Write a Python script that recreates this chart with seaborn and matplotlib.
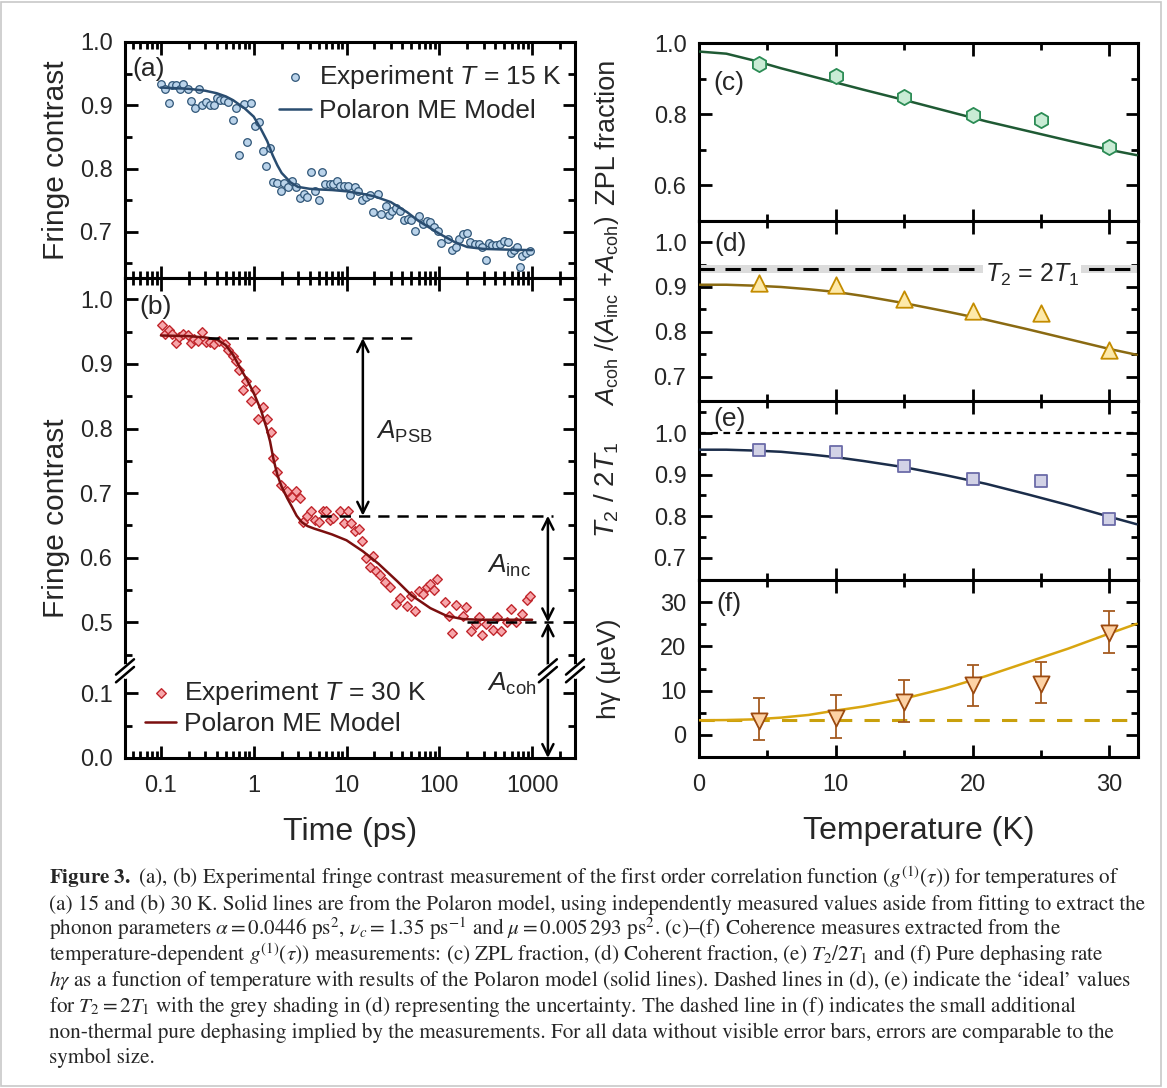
import numpy as np
import seaborn as sns
import matplotlib
matplotlib.use("Agg")
import matplotlib.pyplot as plt
from matplotlib.ticker import FixedLocator, LogLocator, NullFormatter, FuncFormatter
from matplotlib.patches import Rectangle

# ---------------- data ----------------
# (a) fringe contrast at T = 15 K
time_a = [0.100, 0.110, 0.122, 0.132, 0.145, 0.160, 0.174, 0.194, 0.211, 0.233,
          0.255, 0.275, 0.306, 0.338, 0.373, 0.399, 0.433, 0.479, 0.533, 0.593,
          0.645, 0.695, 0.787, 0.848, 0.936, 1.02, 1.15, 1.25, 1.35, 1.50,
          1.63, 1.80, 1.95, 2.12, 2.37, 2.57, 2.84, 3.16, 3.44, 3.79,
          4.12, 4.55, 5.02, 5.42, 5.89, 6.56, 7.24, 7.87, 8.55, 9.44,
          10.4, 11.0, 12.2, 13.3, 14.8, 16.3, 18.0, 19.5, 21.8, 23.7,
          26.4, 28.6, 31.1, 34.4, 38.0, 41.2, 45.9, 49.9, 54.2, 59.8,
          66.7, 73.6, 78.7, 86.9, 96.8, 105, 124, 138, 150, 163,
          180, 199, 216, 241, 268, 291, 316, 344, 373, 412,
          448, 494, 551, 598, 634, 689, 736, 787, 869, 960]
contrast_a = [0.934, 0.925, 0.904, 0.932, 0.932, 0.926, 0.934, 0.925, 0.906, 0.895,
              0.926, 0.900, 0.905, 0.900, 0.900, 0.912, 0.908, 0.908, 0.905, 0.876,
              0.896, 0.821, 0.902, 0.842, 0.904, 0.867, 0.874, 0.828, 0.804, 0.832,
              0.779, 0.777, 0.764, 0.777, 0.771, 0.781, 0.771, 0.754, 0.759, 0.755,
              0.795, 0.765, 0.751, 0.794, 0.775, 0.775, 0.775, 0.781, 0.772, 0.772,
              0.772, 0.758, 0.771, 0.765, 0.750, 0.755, 0.758, 0.732, 0.759, 0.728,
              0.741, 0.726, 0.733, 0.737, 0.733, 0.719, 0.721, 0.718, 0.702, 0.725,
              0.712, 0.717, 0.716, 0.708, 0.702, 0.682, 0.688, 0.671, 0.676, 0.688,
              0.697, 0.698, 0.684, 0.681, 0.681, 0.676, 0.655, 0.683, 0.679, 0.679,
              0.681, 0.686, 0.684, 0.666, 0.672, 0.676, 0.644, 0.661, 0.667, 0.670]
model_time_a = [0.1, 0.2, 0.3, 0.4, 0.5, 0.6, 0.7, 0.8, 1.0, 1.2, 1.4, 1.6, 1.8, 2.0,
                2.5, 3.0, 4.0, 5.0, 7.0, 10, 15, 20, 30, 45, 60, 100, 150, 200,
                300, 500, 1000]
model_contrast_a = [0.928, 0.926, 0.923, 0.919, 0.914, 0.908, 0.901, 0.895, 0.882,
                    0.862, 0.843, 0.821, 0.805, 0.793, 0.778, 0.771, 0.768, 0.767,
                    0.766, 0.764, 0.760, 0.756, 0.747, 0.731, 0.717, 0.697, 0.683,
                    0.676, 0.673, 0.672, 0.671]

# (b) fringe contrast at T = 30 K
time_b = [0.102, 0.110, 0.122, 0.132, 0.145, 0.158, 0.174, 0.194, 0.209, 0.227,
          0.253, 0.275, 0.306, 0.338, 0.373, 0.426, 0.490, 0.533, 0.603, 0.645,
          0.700, 0.775, 0.828, 0.936, 1.03, 1.10, 1.25, 1.39, 1.52, 1.60,
          1.77, 1.98, 2.27, 2.60, 2.86, 3.16, 3.39, 3.73, 4.12, 4.59,
          5.06, 5.56, 6.05, 6.67, 7.24, 8.52, 9.44, 10.5, 11.2, 12.2,
          13.6, 14.8, 16.3, 17.7, 19.2, 20.9, 23.1, 25.7, 29.6, 34.4,
          37.9, 44.8, 49.9, 54.2, 60.4, 66.6, 73.6, 79.5, 86.7, 94.3,
          114, 127, 138, 150, 180, 195, 221, 246, 268, 291,
          322, 380, 414, 468, 530, 597, 673, 785, 871, 959]
contrast_b = [0.960, 0.947, 0.953, 0.947, 0.932, 0.942, 0.947, 0.945, 0.932, 0.939,
              0.935, 0.950, 0.934, 0.934, 0.931, 0.935, 0.931, 0.921, 0.913, 0.905,
              0.891, 0.859, 0.873, 0.842, 0.859, 0.815, 0.833, 0.815, 0.795, 0.755,
              0.732, 0.713, 0.703, 0.694, 0.704, 0.692, 0.655, 0.664, 0.673, 0.659,
              0.655, 0.673, 0.673, 0.659, 0.661, 0.672, 0.654, 0.672, 0.654, 0.642,
              0.644, 0.626, 0.600, 0.585, 0.603, 0.579, 0.574, 0.562, 0.554, 0.528,
              0.538, 0.526, 0.541, 0.518, 0.549, 0.544, 0.554, 0.560, 0.550, 0.567,
              0.531, 0.510, 0.483, 0.527, 0.510, 0.524, 0.486, 0.498, 0.509, 0.481,
              0.498, 0.488, 0.509, 0.487, 0.500, 0.520, 0.500, 0.513, 0.534, 0.541]
model_time_b = [0.1, 0.2, 0.3, 0.4, 0.5, 0.6, 0.7, 0.85, 1.0, 1.2, 1.38, 1.5, 1.63,
                1.8, 2.0, 2.3, 2.6, 2.9, 3.3, 3.8, 4.5, 5.5, 7, 10, 15, 22, 35, 50,
                80, 120, 180, 270, 400, 1000]
model_contrast_b = [0.944, 0.943, 0.941, 0.938, 0.929, 0.914, 0.896, 0.875, 0.855,
                    0.828, 0.800, 0.780, 0.753, 0.728, 0.710, 0.692, 0.678, 0.665,
                    0.655, 0.649, 0.645, 0.641, 0.636, 0.627, 0.610, 0.591, 0.564,
                    0.542, 0.522, 0.510, 0.505, 0.504, 0.504, 0.504]

# plateau levels marked in (b)
level_psb = 0.94
level_inc = 0.665
level_coh = 0.50
arrow_time = 1480

# (c)-(f) vs temperature
temps = [4.4, 10, 15, 20, 25, 30]
zpl_frac = [0.942, 0.906, 0.849, 0.797, 0.784, 0.709]
coh_frac = [0.908, 0.904, 0.874, 0.846, 0.841, 0.760]
t2_ratio = [0.960, 0.954, 0.920, 0.889, 0.884, 0.794]
h_gamma = [3.2, 3.8, 7.4, 11.3, 11.6, 23.0]
h_gamma_low = [-1.1, -0.6, 2.9, 6.5, 7.1, 18.4]
h_gamma_high = [8.4, 8.9, 12.5, 15.9, 16.5, 28.0]

model_temp = [0, 2, 4, 6, 8, 10, 12, 15, 18, 21, 24, 27, 30, 32]
model_zpl = [0.976, 0.970, 0.951, 0.929, 0.909, 0.889, 0.869, 0.840, 0.810, 0.780,
             0.753, 0.726, 0.700, 0.685]
model_coh = [0.905, 0.905, 0.903, 0.900, 0.895, 0.889, 0.880, 0.864, 0.846, 0.827,
             0.806, 0.784, 0.762, 0.749]
model_t2 = [0.960, 0.960, 0.958, 0.955, 0.949, 0.942, 0.933, 0.918, 0.899, 0.878,
            0.853, 0.827, 0.799, 0.781]
model_hg = [3.3, 3.35, 3.5, 3.9, 4.5, 5.5, 6.4, 8.2, 10.5, 13.3, 16.4, 19.5, 22.9, 25.1]

ideal_coh = 0.94
ideal_coh_band = (0.932, 0.948)
ideal_t2 = 1.0
hg_offset = 3.3

# ---------------- style ----------------
sns.set_style("ticks")
plt.rcParams['font.family'] = ['Liberation Sans', 'DejaVu Sans']
plt.rcParams['mathtext.fontset'] = 'custom'
plt.rcParams['mathtext.rm'] = 'Liberation Sans'
plt.rcParams['mathtext.it'] = 'Liberation Sans:italic'
plt.rcParams['mathtext.bf'] = 'Liberation Sans:bold'

W, H = 1167, 1088
fig = plt.figure(figsize=(W / 100, H / 100), dpi=100)

TICK_FS = 17
LABEL_FS = 23
PANEL_FS = 19
LEG_FS = 19


def box(x0, y0, x1, y1):
    return [x0 / W, 1 - y1 / H, (x1 - x0) / W, (y1 - y0) / H]


def style(ax, xpad=12):
    ax.tick_params(which='both', direction='in', top=True, right=True, width=2,
                   labelsize=TICK_FS, color='black')
    ax.tick_params(which='major', length=9)
    ax.tick_params(which='minor', length=5)
    ax.tick_params(axis='y', pad=9)
    ax.tick_params(axis='x', pad=xpad)
    for s in ax.spines.values():
        s.set_linewidth(2.2)
        s.set_color('black')


def log_time_axis(ax, labels):
    ax.set_xscale('log')
    ax.set_xlim(0.041, 2900)
    ax.xaxis.set_major_locator(FixedLocator([0.1, 1, 10, 100, 1000]))
    ax.xaxis.set_minor_locator(LogLocator(base=10, subs=np.arange(2, 10), numticks=20))
    ax.xaxis.set_minor_formatter(NullFormatter())
    if labels:
        ax.xaxis.set_major_formatter(FuncFormatter(lambda v, p: f'{v:g}'))
    else:
        ax.xaxis.set_major_formatter(NullFormatter())


def temp_axis(ax, labels):
    ax.set_xlim(0, 32.1)
    ax.xaxis.set_major_locator(FixedLocator([0, 10, 20, 30]))
    ax.xaxis.set_minor_locator(FixedLocator([5, 15, 25]))
    if not labels:
        ax.xaxis.set_major_formatter(NullFormatter())


def y_ticks(ax, major, minor, fmt='{:.1f}'):
    ax.yaxis.set_major_locator(FixedLocator(major))
    ax.yaxis.set_minor_locator(FixedLocator(minor))
    ax.yaxis.set_major_formatter(FuncFormatter(lambda v, p: fmt.format(v)))


# ---------------- (a) ----------------
ax_a = fig.add_axes(box(125, 42, 575, 278))
sns.scatterplot(x=time_a, y=contrast_a, ax=ax_a, marker='o', s=30, color='#bad3ea',
                edgecolor='#2f5577', linewidth=0.9, zorder=3,
                label=r'Experiment $T$ = 15 K')
sns.lineplot(x=model_time_a, y=model_contrast_a, ax=ax_a, color='#2a4d70', lw=1.8,
             zorder=4, label='Polaron ME Model', sort=False, estimator=None)
log_time_axis(ax_a, labels=False)
ax_a.set_ylim(0.627, 1.0)
y_ticks(ax_a, [0.7, 0.8, 0.9, 1.0], [0.65, 0.75, 0.85, 0.95])
style(ax_a)
ax_a.set_ylabel('Fringe contrast', fontsize=21.5)
ax_a.yaxis.set_label_coords(-0.122, 0.5)
ax_a.text(0.016, 0.886, '(a)', transform=ax_a.transAxes, fontsize=PANEL_FS,
          ha='left', va='center')
h, l = ax_a.get_legend_handles_labels()
ax_a.legend(h, l, loc='upper right', bbox_to_anchor=(0.97, 0.91), frameon=False,
            fontsize=LEG_FS, handlelength=1.2, handletextpad=0.3, labelspacing=0.29,
            borderpad=0, borderaxespad=0)

# ---------------- (b) with broken y axis ----------------
GAP_LO, GAP_HI = 0.135, 0.425
GAP = GAP_HI - GAP_LO


def fwd(y):
    y = np.asarray(y, dtype=float)
    return np.where(y > GAP_HI, y - GAP, np.where(y > GAP_LO, GAP_LO, y))


def inv(u):
    u = np.asarray(u, dtype=float)
    return np.where(u > GAP_LO, u + GAP, u)


ax_b = fig.add_axes(box(125, 278, 575, 758))
ax_b.set_yscale('function', functions=(fwd, inv))
sns.scatterplot(x=time_b, y=contrast_b, ax=ax_b, marker='D', s=24, color='#f7a6aa',
                edgecolor='#c1272d', linewidth=1.0, zorder=3,
                label=r'Experiment $T$ = 30 K')
sns.lineplot(x=model_time_b, y=model_contrast_b, ax=ax_b, color='#7b0f0f', lw=1.8,
             zorder=4, label='Polaron ME Model', sort=False, estimator=None)
log_time_axis(ax_b, labels=True)
ax_b.set_ylim(0.0, 1.033)
y_ticks(ax_b, [0.0, 0.1, 0.5, 0.6, 0.7, 0.8, 0.9, 1.0],
        [0.05, 0.45, 0.55, 0.65, 0.75, 0.85, 0.95])
style(ax_b)
ax_b.set_ylabel('Fringe contrast', fontsize=21.5)
ax_b.yaxis.set_label_coords(-0.122, 0.5)
ax_b.set_xlabel('Time (ps)', fontsize=LABEL_FS)
ax_b.xaxis.set_label_coords(0.5, -0.122)
ax_b.text(0.031, 0.94, '(b)', transform=ax_b.transAxes, fontsize=PANEL_FS,
          ha='left', va='center')
h, l = ax_b.get_legend_handles_labels()
ax_b.legend(h, l, loc='lower left', bbox_to_anchor=(0.044, 0.045), frameon=False,
            fontsize=LEG_FS, handlelength=1.2, handletextpad=0.3, labelspacing=0.22,
            borderpad=0, borderaxespad=0)

dash_kw = dict(color='black', lw=1.8, dashes=(4.5, 3.2), zorder=5)
ax_b.plot([0.32, 51], [level_psb, level_psb], **dash_kw)
ax_b.plot([5.2, 1700], [level_inc, level_inc], **dash_kw)
ax_b.plot([200, 1700], [level_coh, level_coh], **dash_kw)
arrow_kw = dict(arrowstyle='<->', color='black', lw=1.8, shrinkA=0, shrinkB=0,
                mutation_scale=20)
ax_b.annotate('', xy=(15, level_inc), xytext=(15, level_psb), arrowprops=arrow_kw)
ax_b.annotate('', xy=(arrow_time, level_coh), xytext=(arrow_time, level_inc),
              arrowprops=arrow_kw)
ax_b.annotate('', xy=(arrow_time, 0.0), xytext=(arrow_time, level_coh),
              arrowprops=arrow_kw)
ax_b.text(21, 0.795, r'$A_{\rm PSB}$', fontsize=19, ha='left', va='center')
ax_b.text(330, 0.588, r'$A_{\rm inc}$', fontsize=19, ha='left', va='center')
ax_b.text(330, 0.115, r'$A_{\rm coh}$', fontsize=19, ha='left', va='center')

# break marks
to_axes = ax_b.transAxes.inverted()
y_break = to_axes.transform(ax_b.transData.transform((1, GAP_LO)))[1]
x_arrow = to_axes.transform(ax_b.transData.transform((arrow_time, 0.5)))[0]
for xf in (0.0, x_arrow, 1.0):
    w, hh, d = 0.02, 0.016, 0.008
    ax_b.plot([xf, xf], [y_break - d, y_break + d], color='white', lw=5,
              transform=ax_b.transAxes, clip_on=False, zorder=8)
    for dy in (-d, d):
        ax_b.plot([xf - w, xf + w], [y_break + dy - hh, y_break + dy + hh],
                  color='black', lw=1.8, transform=ax_b.transAxes, clip_on=False,
                  zorder=9)

RIGHT_LABEL_X = -0.178

# ---------------- (c) ----------------
ax_c = fig.add_axes(box(699, 43, 1138, 221))
sns.lineplot(x=model_temp, y=model_zpl, ax=ax_c, color='#1f5a34', lw=1.8, zorder=3,
             sort=False, estimator=None)
sns.scatterplot(x=temps, y=zpl_frac, ax=ax_c, marker='h', s=120, color='#c9ecd5',
                edgecolor='#2c8c55', linewidth=1.3, zorder=4)
temp_axis(ax_c, labels=False)
ax_c.set_ylim(0.5, 1.0)
y_ticks(ax_c, [0.6, 0.8, 1.0], [0.7, 0.9])
style(ax_c)
ax_c.set_ylabel('ZPL fraction', fontsize=19.5)
ax_c.yaxis.set_label_coords(RIGHT_LABEL_X, 0.5)
ax_c.text(0.032, 0.778, '(c)', transform=ax_c.transAxes, fontsize=PANEL_FS,
          ha='left', va='center')

# ---------------- (d) ----------------
ax_d = fig.add_axes(box(699, 221, 1138, 401))
ax_d.axhspan(*ideal_coh_band, color='#dcdcdc', lw=0, zorder=1)
ax_d.axhline(ideal_coh, color='black', lw=2.2, dashes=(5, 3.5), zorder=2)
sns.lineplot(x=model_temp, y=model_coh, ax=ax_d, color='#8a6a12', lw=1.8, zorder=3,
             sort=False, estimator=None)
sns.scatterplot(x=temps, y=coh_frac, ax=ax_d, marker='^', s=140, color='#fde9a9',
                edgecolor='#c48c00', linewidth=1.3, zorder=4)
temp_axis(ax_d, labels=False)
ax_d.set_ylim(0.646, 1.047)
y_ticks(ax_d, [0.7, 0.8, 0.9, 1.0], [0.75, 0.85, 0.95])
style(ax_d)
ax_d.set_ylabel(r'$A_{\rm coh}$ /($A_{\rm inc}$ +$A_{\rm coh}$)', fontsize=18.5)
ax_d.yaxis.set_label_coords(RIGHT_LABEL_X, 0.5)
ax_d.text(0.036, 0.872, '(d)', transform=ax_d.transAxes, fontsize=PANEL_FS,
          ha='left', va='center')
ax_d.text(20.9, 0.926, r'$T_2$ = 2$T_1$', fontsize=18, ha='left', va='center',
          zorder=6, bbox=dict(facecolor='white', edgecolor='none', pad=1.5))

# ---------------- (e) ----------------
ax_e = fig.add_axes(box(699, 401, 1138, 580))
ax_e.axhline(ideal_t2, color='black', lw=1.6, dashes=(3, 2.5), zorder=2)
sns.lineplot(x=model_temp, y=model_t2, ax=ax_e, color='#1b2d4a', lw=1.8, zorder=3,
             sort=False, estimator=None)
sns.scatterplot(x=temps, y=t2_ratio, ax=ax_e, marker='s', s=78, color='#d2d2e6',
                edgecolor='#6b6ba8', linewidth=1.3, zorder=4)
temp_axis(ax_e, labels=False)
ax_e.set_ylim(0.647, 1.077)
y_ticks(ax_e, [0.7, 0.8, 0.9, 1.0], [0.75, 0.85, 0.95, 1.05])
style(ax_e)
ax_e.set_ylabel(r'$T_2$ / 2$T_1$', fontsize=20)
ax_e.yaxis.set_label_coords(RIGHT_LABEL_X, 0.5)
ax_e.text(0.032, 0.9, '(e)', transform=ax_e.transAxes, fontsize=PANEL_FS,
          ha='left', va='center')

# ---------------- (f) ----------------
ax_f = fig.add_axes(box(699, 580, 1138, 757))
ax_f.axhline(hg_offset, color='#c9a00c', lw=2.2, dashes=(5, 4), zorder=2)
sns.lineplot(x=model_temp, y=model_hg, ax=ax_f, color='#d8a510', lw=1.8, zorder=3,
             sort=False, estimator=None)
hg = np.array(h_gamma)
yerr = [hg - np.array(h_gamma_low), np.array(h_gamma_high) - hg]
ax_f.errorbar(temps, h_gamma, yerr=yerr, fmt='none', ecolor='#a55a20', elinewidth=1.3,
              capsize=4.5, capthick=1.3, zorder=4)
sns.scatterplot(x=temps, y=h_gamma, ax=ax_f, marker='v', s=135, color='#fdd2a5',
                edgecolor='#9c4a10', linewidth=1.3, zorder=5)
temp_axis(ax_f, labels=True)
ax_f.set_ylim(-5, 35)
y_ticks(ax_f, [0, 10, 20, 30], [5, 15, 25], fmt='{:.0f}')
style(ax_f)
ax_f.set_ylabel('hγ (μeV)', fontsize=19)
ax_f.yaxis.set_label_coords(RIGHT_LABEL_X, 0.5)
ax_f.set_xlabel('Temperature (K)', fontsize=LABEL_FS)
ax_f.xaxis.set_label_coords(0.5, -0.335)
ax_f.text(0.039, 0.864, '(f)', transform=ax_f.transAxes, fontsize=PANEL_FS,
          ha='left', va='center')

# ---------------- caption ----------------
caption = [
    r"$\mathbf{Figure\ 3.}$ (a), (b) Experimental fringe contrast measurement of the first order correlation function ($g^{(1)}(\tau)$) for temperatures of",
    r"(a) 15 and (b) 30 K. Solid lines are from the Polaron model, using independently measured values aside from fitting to extract the",
    r"phonon parameters $\alpha = 0.0446$ ps$^2$, $\nu_c = 1.35$ ps$^{-1}$ and $\mu = 0.005\,293$ ps$^2$. (c)–(f) Coherence measures extracted from the",
    r"temperature-dependent $g^{(1)}(\tau)$) measurements: (c) ZPL fraction, (d) Coherent fraction, (e) $T_2/2T_1$ and (f) Pure dephasing rate",
    r"$h\gamma$ as a function of temperature with results of the Polaron model (solid lines). Dashed lines in (d), (e) indicate the ‘ideal’ values",
    r"for $T_2 = 2T_1$ with the grey shading in (d) representing the uncertainty. The dashed line in (f) indicates the small additional",
    r"non-thermal pure dephasing implied by the measurements. For all data without visible error bars, errors are comparable to the",
    r"symbol size.",
]
for i, line in enumerate(caption):
    fig.text(49 / W, 1 - (884 + 25.6 * i) / H, line, fontsize=15.2,
             family='STIXGeneral', math_fontfamily='stix', ha='left', va='baseline')

fig.patches.append(Rectangle((0.001, 0.002), 0.994, 0.996, transform=fig.transFigure,
                             fill=False, edgecolor='#c8c8c8', lw=1.2))

fig.savefig('out.png', dpi=100, facecolor='white')
